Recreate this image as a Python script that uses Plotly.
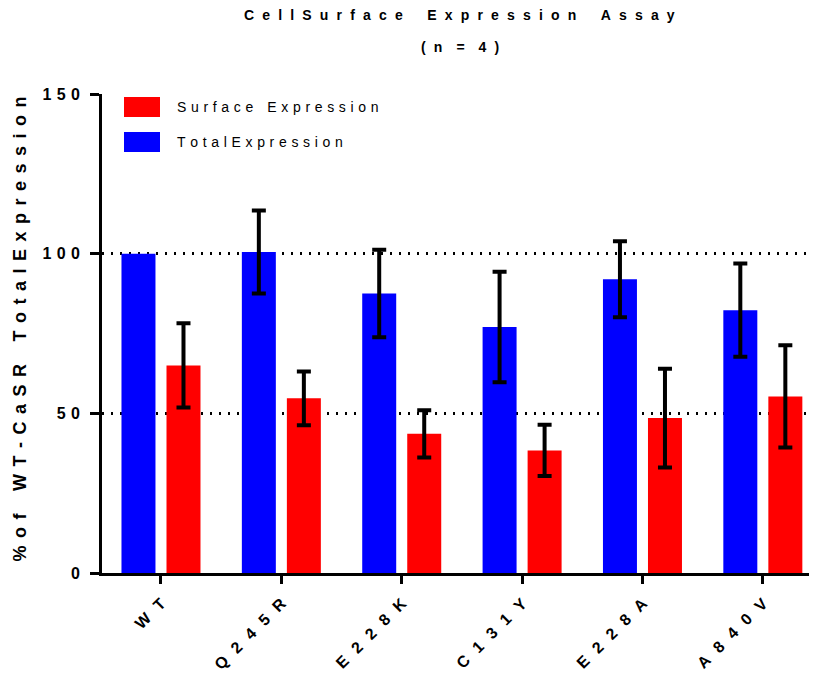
import plotly.graph_objects as go

# ---- data ----
categories = ["WT", "Q245R", "E228K", "C131Y", "E228A", "A840V"]
total_expr = [100.0, 100.5, 87.5, 77.0, 92.0, 82.3]
total_err = [None, 13.0, 13.7, 17.3, 11.9, 14.6]   # WT is the reference: no error bar
surface_expr = [65.0, 54.7, 43.6, 38.4, 48.5, 55.3]
surface_err = [13.2, 8.4, 7.4, 8.0, 15.5, 16.0]
y_ticks = [0, 50, 100, 150]

FONT = "Liberation Sans, Arial, Helvetica, sans-serif"


def spaced(text, gap, wgap):
    """Spread letters; a double space in text marks a wide word gap."""
    parts = text.split("  ")
    return wgap.join(gap.join(p.replace(" ", "")) for p in parts)


def err_array(vals):
    # a missing value is passed as "NaN" so that plotly.js skips that error bar
    return ["NaN" if v is None else v for v in vals]


EN = "\u2002"
EM = "\u2003"
THREE = "\u2004"
FOUR = "\u2005"
SIX = "\u2006"

# plot area in window pixels: x 102..817, y 94..573 (page has 8px body margin)
PL, PT, PW, PH = 102, 94, 715, 479


def px(x):
    return (x - PL) / PW


def py(y):
    return (PT + PH - y) / PH


fig = go.Figure()
fig.add_trace(go.Bar(
    x=categories, y=total_expr, name="Total Expression",
    marker=dict(color="#0000FF", line=dict(width=0)),
    error_y=dict(type="data", array=err_array(total_err), visible=True,
                 color="black", thickness=4, width=7),
))
fig.add_trace(go.Bar(
    x=categories, y=surface_expr, name="Surface Expression",
    marker=dict(color="#FF0000", line=dict(width=0)),
    error_y=dict(type="data", array=err_array(surface_err), visible=True,
                 color="black", thickness=4, width=7),
))

fig.update_layout(
    width=817, height=684,
    margin=dict(l=94, r=8, t=86, b=119),
    plot_bgcolor="white", paper_bgcolor="white",
    barmode="group", bargap=0.252, bargroupgap=0.245,
    showlegend=False,
    font=dict(family=FONT, color="black"),
)

fig.update_xaxes(
    type="category",
    range=[-0.49, 5.45],
    tickmode="array", tickvals=categories,
    ticktext=[spaced(c, EN + SIX, EN) for c in categories],
    tickangle=-45,
    tickfont=dict(family=FONT, size=16, weight="bold", color="black"),
    ticklabelstandoff=4,
    showline=True, linecolor="black", linewidth=3,
    ticks="outside", ticklen=8, tickwidth=3, tickcolor="black",
    showgrid=False, zeroline=False,
)

fig.update_yaxes(
    range=[0, 150],
    tickmode="array", tickvals=y_ticks,
    ticktext=[spaced(str(v), THREE, THREE) for v in y_ticks],
    tickfont=dict(family=FONT, size=16, weight="bold", color="black"),
    ticklabelstandoff=7,
    showline=True, linecolor="black", linewidth=3,
    ticks="outside", ticklen=9, tickwidth=3, tickcolor="black",
    showgrid=True, gridcolor="black", gridwidth=2.5, griddash="2px,7px",
    zeroline=False,
)

annotations = [
    dict(text=spaced("Cell Surface  Expression  Assay", THREE + FOUR, EM + EN + FOUR),
         x=0.5, y=py(15), xref="paper", yref="paper",
         xanchor="center", yanchor="middle", showarrow=False,
         font=dict(family=FONT, size=14, weight="bold", color="black")),
    dict(text=spaced("(n  =  4)", THREE + FOUR, EM),
         x=0.5, y=py(47), xref="paper", yref="paper",
         xanchor="center", yanchor="middle", showarrow=False,
         font=dict(family=FONT, size=14, weight="bold", color="black")),
    dict(text=spaced("% of  WT-CaSR  Total Expression", FOUR + SIX, EM + FOUR),
         x=px(19), y=py(329.5), xref="paper", yref="paper",
         xanchor="center", yanchor="middle", showarrow=False, textangle=-90,
         font=dict(family=FONT, size=18, weight="bold", color="black")),
    dict(text=spaced("Surface  Expression", THREE, EM),
         x=px(175), y=py(107), xref="paper", yref="paper",
         xanchor="left", yanchor="middle", showarrow=False,
         font=dict(family=FONT, size=14, color="black")),
    dict(text=spaced("Total Expression", THREE, EM),
         x=px(175), y=py(142), xref="paper", yref="paper",
         xanchor="left", yanchor="middle", showarrow=False,
         font=dict(family=FONT, size=14, color="black")),
]

shapes = [
    dict(type="rect", xref="paper", yref="paper",
         x0=px(124), x1=px(160), y0=py(117), y1=py(97),
         fillcolor="#FF0000", line=dict(width=0)),
    dict(type="rect", xref="paper", yref="paper",
         x0=px(124), x1=px(160), y0=py(152), y1=py(132),
         fillcolor="#0000FF", line=dict(width=0)),
]

fig.update_layout(annotations=annotations, shapes=shapes)
fig.write_html("out.html")
